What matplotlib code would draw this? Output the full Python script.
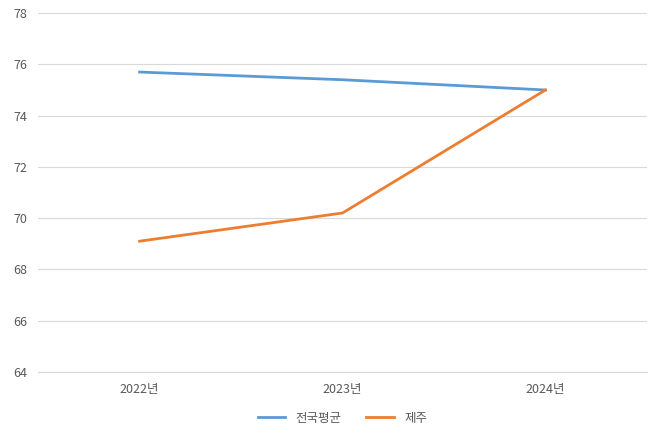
import matplotlib.pyplot as plt

plt.rcParams['font.family'] = ['Noto Sans CJK KR', 'DejaVu Sans']

years = ['2022년', '2023년', '2024년']
national = [75.7, 75.4, 75.0]
jeju = [69.1, 70.2, 75.0]

fig = plt.figure(figsize=(6.58, 4.37), dpi=100)
ax = fig.add_axes([0.058, 0.149, 0.925, 0.821])

x = range(len(years))
ax.plot(x, national, color='#5b9bd5', lw=2, label='전국평균')
ax.plot(x, jeju, color='#ed7d31', lw=2, label='제주')

ax.set_xlim(-0.5, 2.5)
ax.set_ylim(64, 78)
ax.set_yticks(range(64, 79, 2))
ax.set_xticks(list(x))
ax.set_xticklabels(years)
ax.grid(axis='y', color='#d9d9d9', lw=0.8)
ax.set_axisbelow(True)
for s in ['top', 'right', 'left']:
    ax.spines[s].set_visible(False)
ax.spines['bottom'].set_color('#d9d9d9')
ax.tick_params(length=0, labelsize=9, colors='#595959', pad=8)

ax.legend(loc='upper center', bbox_to_anchor=(0.5, -0.08), ncol=2, frameon=False,
          fontsize=9, labelcolor='#595959', handlelength=2.2)

fig.savefig('out.png', dpi=100)
